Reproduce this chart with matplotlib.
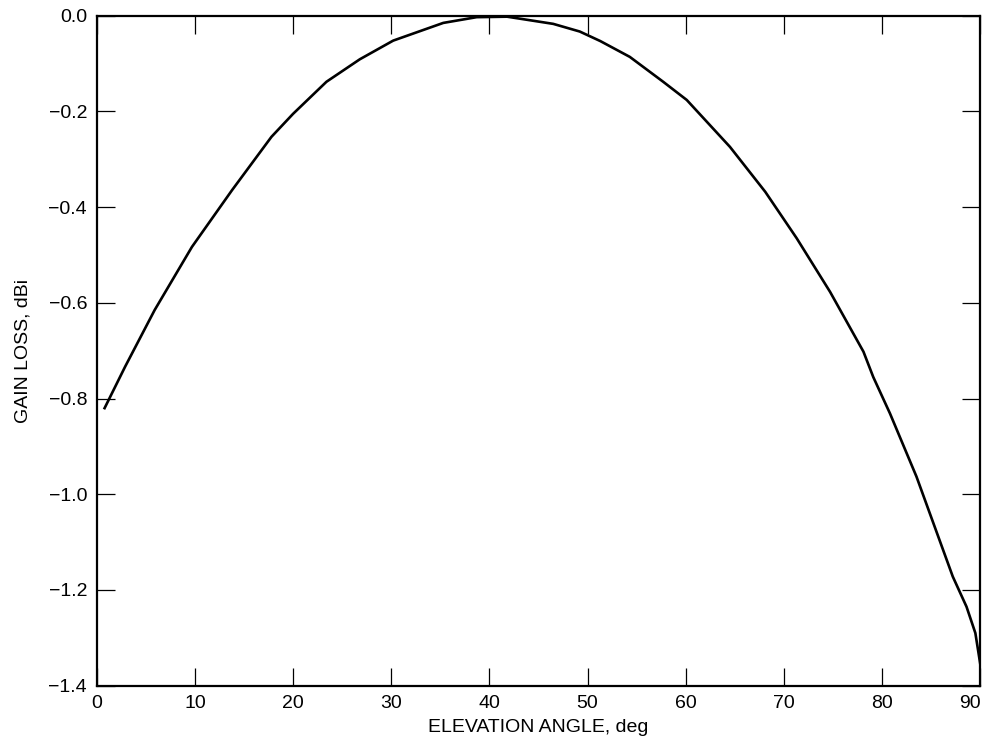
import matplotlib
matplotlib.use("Agg")
import matplotlib.pyplot as plt

# gain loss vs elevation angle
elevation_deg = [0.8, 2.9, 5.9, 9.7, 13.8, 17.8, 20.0, 23.4, 26.8, 30.2, 35.3, 38.7,
                 41.8, 46.5, 49.2, 51.3, 54.3, 57.7, 60.1, 64.5, 68.1, 71.3, 74.7,
                 78.1, 79.1, 80.8, 83.5, 87.2, 88.6, 89.5, 90.0]
gain_loss_dbi = [-0.820, -0.733, -0.615, -0.483, -0.364, -0.253, -0.205, -0.138,
                 -0.091, -0.052, -0.015, -0.003, -0.002, -0.017, -0.033, -0.053,
                 -0.086, -0.138, -0.176, -0.274, -0.368, -0.465, -0.577, -0.702,
                 -0.755, -0.831, -0.963, -1.172, -1.235, -1.290, -1.355]

x_ticks = list(range(0, 91, 10))
y_ticks = [0.0, -0.2, -0.4, -0.6, -0.8, -1.0, -1.2, -1.4]

plt.rcParams['font.family'] = ['Liberation Sans', 'DejaVu Sans']

fig = plt.figure(figsize=(9.85, 7.49), dpi=100)
ax = fig.add_axes([0.0982, 0.0845, 0.897, 0.8945])

ax.plot(elevation_deg, gain_loss_dbi, color='black', linewidth=1.9)

ax.set_xlim(0, 90)
ax.set_ylim(-1.4, 0.0)
ax.set_xticks(x_ticks)
ax.set_yticks(y_ticks)
ax.set_yticklabels([f"{v:.1f}".replace('-', '\u2212') for v in y_ticks])

ax.tick_params(direction='in', length=13, width=0.9, labelsize=14, pad=7,
               top=True, right=True)
# last x label sits right at the figure edge, keep it inside like the original
ax.get_xticklabels()[-1].set_ha('right')
ax.get_xticklabels()[-1].set_x(90.6)
for s in ax.spines.values():
    s.set_linewidth(1.6)

ax.set_xlabel("ELEVATION ANGLE, deg", fontsize=14, labelpad=5)
ax.set_ylabel("GAIN LOSS, dBi", fontsize=14, labelpad=12)

fig.savefig("out.png", dpi=100)
